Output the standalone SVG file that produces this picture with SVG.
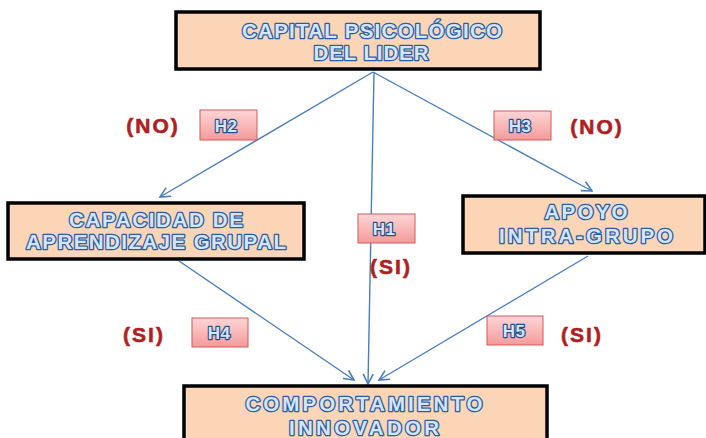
<svg xmlns="http://www.w3.org/2000/svg" width="706" height="438" viewBox="0 0 706 438">
<defs>
<linearGradient id="pink" x1="0" y1="0" x2="0" y2="1">
<stop offset="0" stop-color="#fcd6d6"/>
<stop offset="1" stop-color="#f59a9a"/>
</linearGradient>
<marker id="arr" viewBox="0 0 12 12" refX="11" refY="6" markerWidth="12" markerHeight="12" markerUnits="userSpaceOnUse" orient="auto">
<path d="M1,1 L11,6 L1,11" fill="none" stroke="#4a7ebb" stroke-width="1.6"/>
</marker>
</defs>
<style>
.box{fill:#fbd5b5;stroke:#000;stroke-width:3.5}
.bt{font-family:"Liberation Sans",Arial,sans-serif;font-weight:bold;font-size:20.5px;fill:#d6e6f8;stroke:#2a5ca3;stroke-width:2.6;stroke-linejoin:round;paint-order:stroke;text-anchor:middle}
.hb{fill:url(#pink);stroke:#d05a5a;stroke-width:1}
.ht{font-family:"Liberation Sans",Arial,sans-serif;font-weight:bold;font-size:17px;letter-spacing:0.5px;fill:#d6e6f8;stroke:#1f4e8c;stroke-width:2.4;stroke-linejoin:round;paint-order:stroke;text-anchor:middle}
.rt{font-family:"Liberation Sans",Arial,sans-serif;font-weight:bold;font-size:21px;letter-spacing:2px;fill:#b01f1f;stroke:#b01f1f;stroke-width:0.6;text-anchor:middle}
.ln{stroke:#4a7ebb;stroke-width:1.4;fill:none;marker-end:url(#arr)}
</style>
<rect width="706" height="438" fill="#fff"/>
<g id="connectors">
<line class="ln" x1="373" y1="72" x2="160" y2="197"/>
<line class="ln" x1="373" y1="72" x2="592" y2="191"/>
<line class="ln" x1="374" y1="72" x2="368" y2="384"/>
<line class="ln" x1="179" y1="261" x2="354" y2="380"/>
<line class="ln" x1="588" y1="256" x2="379" y2="380"/>
</g>
<g id="n-capital">
<rect class="box" x="176" y="12" width="364" height="57"/>
<text class="bt" x="372" y="38" textLength="260" lengthAdjust="spacing">CAPITAL PSICOLÓGICO</text>
<text class="bt" x="371" y="60" textLength="115" lengthAdjust="spacing">DEL LIDER</text>
</g>
<g id="n-capacidad">
<rect class="box" x="8" y="203" width="296" height="56"/>
<text class="bt" x="156" y="227" textLength="174" lengthAdjust="spacing">CAPACIDAD DE</text>
<text class="bt" x="156" y="249" textLength="260" lengthAdjust="spacing">APRENDIZAJE GRUPAL</text>
</g>
<g id="n-apoyo">
<rect class="box" x="463" y="196" width="242" height="57"/>
<text class="bt" x="586" y="219" textLength="83" lengthAdjust="spacing">APOYO</text>
<text class="bt" x="586" y="243" textLength="174" lengthAdjust="spacing">INTRA-GRUPO</text>
</g>
<g id="n-comportamiento">
<rect class="box" x="184" y="386" width="363" height="60"/>
<text class="bt" x="364" y="411" textLength="237" lengthAdjust="spacing">COMPORTAMIENTO</text>
<text class="bt" x="364" y="435" textLength="150" lengthAdjust="spacing">INNOVADOR</text>
</g>
<g id="l-h2">
<rect class="hb" x="200" y="110" width="57" height="30"/>
<text class="ht" x="226" y="132">H2</text>
<text class="rt" x="153" y="133">(NO)</text>
</g>
<g id="l-h3">
<rect class="hb" x="494" y="111" width="57" height="29"/>
<text class="ht" x="520" y="132">H3</text>
<text class="rt" x="597" y="134">(NO)</text>
</g>
<g id="l-h1">
<rect class="hb" x="358" y="214" width="57" height="29"/>
<text class="ht" x="384" y="235">H1</text>
<text class="rt" x="391" y="274">(SI)</text>
</g>
<g id="l-h4">
<rect class="hb" x="192" y="318" width="56" height="29"/>
<text class="ht" x="219" y="339">H4</text>
<text class="rt" x="144" y="342">(SI)</text>
</g>
<g id="l-h5">
<rect class="hb" x="487" y="316" width="56" height="29"/>
<text class="ht" x="514" y="337">H5</text>
<text class="rt" x="582" y="342">(SI)</text>
</g>
</svg>
